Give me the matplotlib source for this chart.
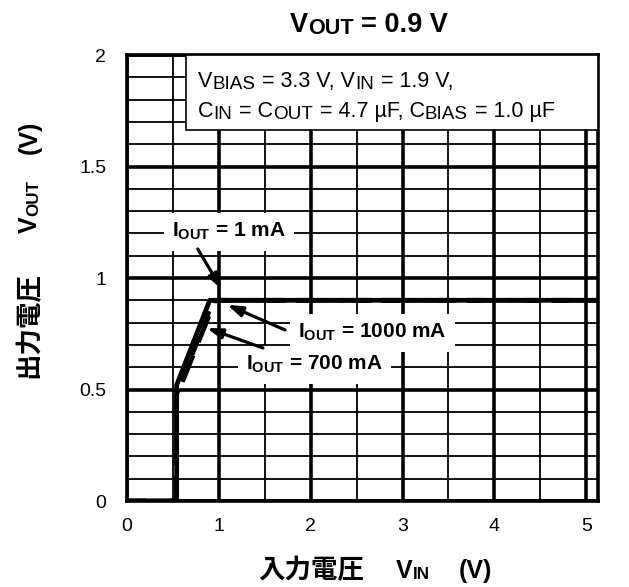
import numpy as np
import matplotlib.pyplot as plt
from matplotlib.patches import Rectangle
from matplotlib.ticker import MultipleLocator

plt.rcParams['font.family'] = ['Liberation Sans', 'Noto Sans CJK JP']
plt.rcParams['mathtext.fontset'] = 'custom'
plt.rcParams['mathtext.rm'] = 'Liberation Sans'
plt.rcParams['mathtext.bf'] = 'Liberation Sans:bold'

# curves
vin_1ma = [0, 0.54, 0.54, 0.90, 5.2]
vout_1ma = [0, 0, 0.52, 0.90, 0.90]
vin_700ma = [0, 0.54, 0.54, 0.94, 5.2]
vout_700ma = [0, 0, 0.48, 0.90, 0.90]
vin_1000ma = [0, 0.54, 0.54, 0.96, 5.2]
vout_1000ma = [0, 0, 0.47, 0.90, 0.90]

x_ticks = [0, 1, 2, 3, 4, 5]
y_ticks = [0, 0.5, 1, 1.5, 2]
y_tick_labels = ['0', '0.5', '1', '1.5', '2']

CJK = 'Noto Sans CJK JP'
LAT = 'Liberation Sans'


def rich_text(ax, x, y, parts, coords, size, rotation=0, **kw):
    # parts: (text, scale, drop in pt, gap before in pt, family)
    prev = None
    for s, scale, drop, gap, fam in parts:
        if rotation == 0:
            xy = (x, y) if prev is None else (1, y)
            xyc = coords if prev is None else (prev, coords)
            off = (gap, -drop)
        else:
            xy = (x, y) if prev is None else (x, 1)
            xyc = coords if prev is None else (coords, prev)
            off = (drop, gap)
        prev = ax.annotate(s, xy=xy, xycoords=xyc, xytext=off, textcoords='offset points',
                           fontsize=size * scale, family=fam, rotation=rotation,
                           rotation_mode='anchor', ha='left', va='baseline',
                           annotation_clip=False, **kw)
    return prev


fig = plt.figure(figsize=(6.29, 5.87), dpi=100)
ax = fig.add_axes([0.202, 0.1465, 0.749, 0.7598])

ax.set_xlim(0, 5.13)
ax.set_ylim(0, 2)
ax.set_xticks(x_ticks)
ax.set_yticks(y_ticks)
ax.set_yticklabels(y_tick_labels)
ax.xaxis.set_minor_locator(MultipleLocator(0.5))
ax.yaxis.set_minor_locator(MultipleLocator(0.1))
ax.tick_params(which='both', length=0, labelsize=14)
ax.tick_params(axis='x', pad=12)
ax.tick_params(axis='y', pad=15)

ax.grid(which='major', color='black', linewidth=2.6)
ax.grid(which='minor', color='black', linewidth=1.3)
ax.set_axisbelow(True)
for s in ax.spines.values():
    s.set_linewidth(2.6)

ax.plot(vin_1ma, vout_1ma, color='black', linewidth=3.4, zorder=3)
ax.plot(vin_700ma, vout_700ma, color='black', linewidth=3.4, linestyle=(0, (4, 2)), zorder=3)
ax.plot(vin_1000ma, vout_1000ma, color='black', linewidth=3.4, linestyle=(0, (6, 3)), zorder=3)

# condition box
ax.add_patch(Rectangle((0.125, 0.832), 0.875, 0.168, transform=ax.transAxes,
                       facecolor='white', edgecolor='black', linewidth=1.2, zorder=4))
fs = 15.5
sp = 0.32 * fs
sub, dr = 0.88, 1.4
rich_text(ax, 198 / 629, 1 - 87 / 587, [
    ('V', 1, 0, 0, LAT), ('BIAS', sub, dr, 0, LAT), ('= 3.3 V, V', 1, 0, sp, LAT),
    ('IN', sub, dr, 0, LAT), ('= 1.9 V,', 1, 0, sp, LAT)], 'figure fraction', fs, zorder=5)
rich_text(ax, 198 / 629, 1 - 117 / 587, [
    ('C', 1, 0, 0, LAT), ('IN', sub, dr, 0, LAT), ('= C', 1, 0, sp, LAT),
    ('OUT', sub, dr, 0, LAT), ('= 4.7 µF, C', 1, 0, sp, LAT),
    ('BIAS', sub, dr, 0, LAT), ('= 1.0 µF', 1, 0, sp, LAT)], 'figure fraction', fs, zorder=5)

# current labels and arrows
box = dict(boxstyle='square,pad=0.4', facecolor='white', edgecolor='none')
ax.text(1.11, 1.184, r'$\mathbf{I_{OUT}}$ = 1 mA', fontsize=15, fontweight='bold',
        ha='center', va='baseline', bbox=box, zorder=6)
ax.text(2.67, 0.731, r'$\mathbf{I_{OUT}}$ = 1000 mA', fontsize=15, fontweight='bold',
        ha='center', va='baseline', bbox=box, zorder=6)
ax.text(2.04, 0.587, r'$\mathbf{I_{OUT}}$ = 700 mA', fontsize=15, fontweight='bold',
        ha='center', va='baseline', bbox=box, zorder=6)

arrow = dict(arrowstyle='-|>,head_length=0.9,head_width=0.3', color='black', lw=2.3,
             shrinkA=0, shrinkB=0)
ax.annotate('', xy=(1.03, 0.95), xytext=(0.77, 1.13), arrowprops=arrow, zorder=6)
ax.annotate('', xy=(1.09, 0.88), xytext=(1.72, 0.767), arrowprops=arrow, zorder=6)
ax.annotate('', xy=(0.87, 0.776), xytext=(1.48, 0.686), arrowprops=arrow, zorder=6)

# title and axis labels
rich_text(ax, 290 / 629, 1 - 32 / 587, [
    ('V', 1, 0, 0, LAT), ('OUT', 0.8, 1.5, 0, LAT), ('= 0.9 V', 1, 0, 0.278 * 19.5, LAT)],
    'figure fraction', 19.5, fontweight='bold')
rich_text(ax, 258 / 629, 1 - 578 / 587, [
    ('入力電圧', 1.06, 0, 0, CJK), ('V', 1, 0, 23, LAT), ('IN', 0.68, 0.8, 0, LAT),
    ('(V)', 1, 0, 21, LAT)], 'figure fraction', 18, fontweight='bold')
rich_text(ax, 37 / 629, 1 - 378 / 587, [
    ('出力電圧', 1.06, 0, 0, CJK), ('V', 1, 0, 28, LAT), ('OUT', 0.68, 0.8, 0, LAT),
    ('(V)', 1, 0, 19, LAT)], 'figure fraction', 18, rotation=90, fontweight='bold')

fig.savefig('out.png', dpi=100)
